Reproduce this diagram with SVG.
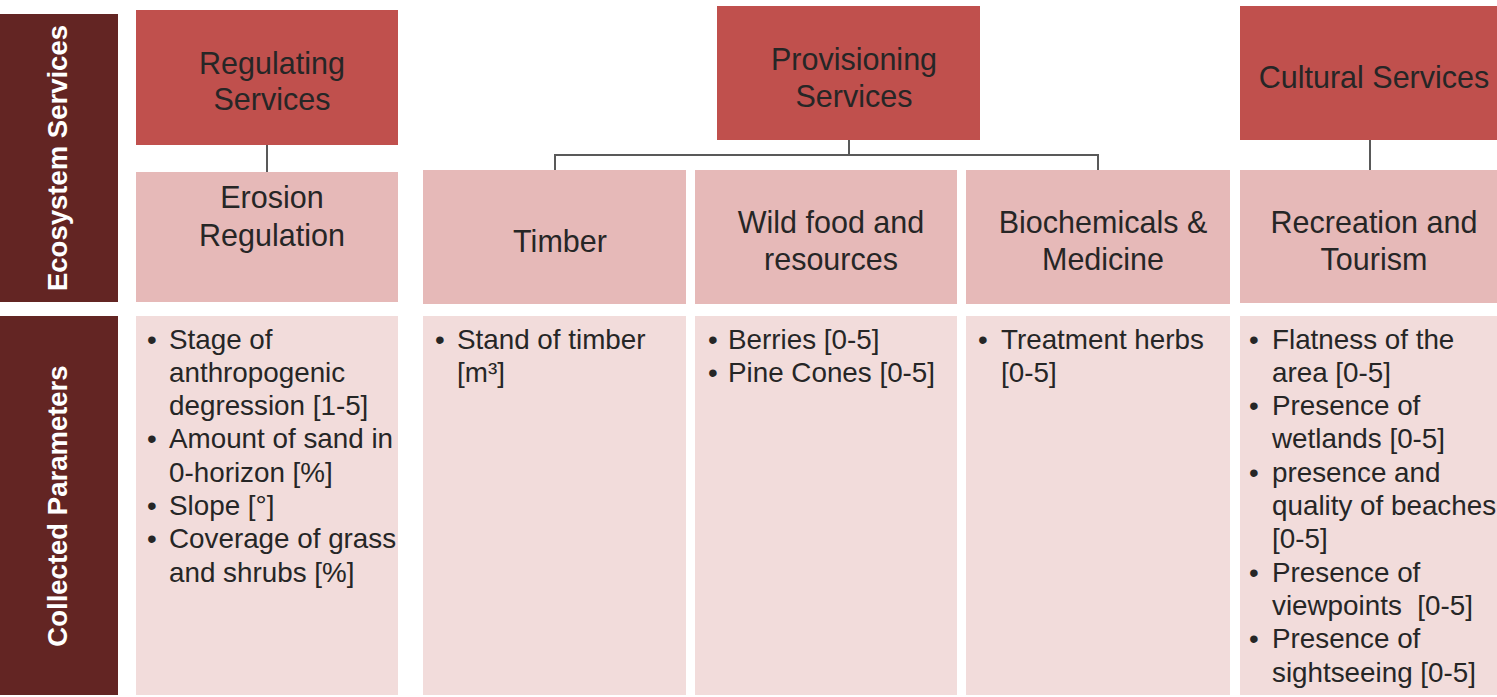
<svg xmlns="http://www.w3.org/2000/svg" width="1497" height="697" viewBox="0 0 1497 697">
<style>
text { font-family: "Liberation Sans", Arial, sans-serif; fill: #262626; }
.side { fill: #632523; }
.head { fill: #c0504d; }
.mid { fill: #e6b9b8; }
.par { fill: #f2dcdb; }
.sidet { fill: #ffffff; font-weight: bold; font-size: 27.5px; text-anchor: middle; }
.ht { font-size: 30.5px; text-anchor: middle; }
.pt { font-size: 27.8px; }
.conn { stroke: #595959; stroke-width: 2; fill: none; }
</style>
<rect width="1497" height="697" fill="#ffffff"/>
<g id="side-ecosystem">
<rect class="side" x="0" y="14" width="118" height="288"/>
<text class="sidet" transform="translate(67,158) rotate(-90)">Ecosystem Services</text>
</g>
<g id="side-collected">
<rect class="side" x="0" y="316" width="118" height="379"/>
<text class="sidet" transform="translate(67,506) rotate(-90)">Collected Parameters</text>
</g>
<g id="connectors">
<path class="conn" d="M267,145 V172"/>
<path class="conn" d="M849,140 V155 M555,170 V155 H1098 V170"/>
<path class="conn" d="M1370,140 V170"/>
</g>
<g id="regulating">
<rect class="head" x="136" y="10" width="262" height="135"/>
<text class="ht" x="272" y="74">Regulating</text>
<text class="ht" x="272" y="110">Services</text>
</g>
<g id="provisioning">
<rect class="head" x="717" y="6" width="263" height="134"/>
<text class="ht" x="854" y="70">Provisioning</text>
<text class="ht" x="854" y="107">Services</text>
</g>
<g id="cultural">
<rect class="head" x="1240" y="6" width="263" height="134"/>
<text class="ht" x="1374" y="88">Cultural Services</text>
</g>
<g id="erosion">
<rect class="mid" x="136" y="172" width="262" height="130"/>
<text class="ht" x="272" y="208">Erosion</text>
<text class="ht" x="272" y="246">Regulation</text>
</g>
<g id="timber">
<rect class="mid" x="423" y="170" width="263" height="134"/>
<text class="ht" x="560" y="252">Timber</text>
</g>
<g id="wildfood">
<rect class="mid" x="695" y="170" width="262" height="134"/>
<text class="ht" x="831" y="233">Wild food and</text>
<text class="ht" x="831" y="270">resources</text>
</g>
<g id="biochemicals">
<rect class="mid" x="966" y="170" width="264" height="134"/>
<text class="ht" x="1103" y="233">Biochemicals &amp;</text>
<text class="ht" x="1103" y="270">Medicine</text>
</g>
<g id="recreation">
<rect class="mid" x="1240" y="170" width="263" height="133"/>
<text class="ht" x="1374" y="233">Recreation and</text>
<text class="ht" x="1374" y="270">Tourism</text>
</g>
<g id="params-regulating">
<rect class="par" x="136" y="316" width="262" height="379"/>
<text class="pt">
<tspan x="147" y="348.5">•</tspan><tspan x="169" y="348.5">Stage of</tspan>
<tspan x="169" y="381.8">anthropogenic</tspan>
<tspan x="169" y="415.1">degression [1-5]</tspan>
<tspan x="147" y="448.4">•</tspan><tspan x="169" y="448.4">Amount of sand in</tspan>
<tspan x="169" y="481.7">0-horizon [%]</tspan>
<tspan x="147" y="515">•</tspan><tspan x="169" y="515">Slope [°]</tspan>
<tspan x="147" y="548.3">•</tspan><tspan x="169" y="548.3">Coverage of grass</tspan>
<tspan x="169" y="581.6">and shrubs [%]</tspan>
</text>
</g>
<g id="params-timber">
<rect class="par" x="423" y="316" width="263" height="379"/>
<text class="pt">
<tspan x="435" y="348.5">•</tspan><tspan x="457" y="348.5">Stand of timber</tspan>
<tspan x="457" y="381.8">[m³]</tspan>
</text>
</g>
<g id="params-wildfood">
<rect class="par" x="695" y="316" width="262" height="379"/>
<text class="pt">
<tspan x="708" y="348.5">•</tspan><tspan x="728" y="348.5">Berries [0-5]</tspan>
<tspan x="708" y="381.8">•</tspan><tspan x="728" y="381.8">Pine Cones [0-5]</tspan>
</text>
</g>
<g id="params-biochemicals">
<rect class="par" x="966" y="316" width="264" height="379"/>
<text class="pt">
<tspan x="978" y="348.5">•</tspan><tspan x="1001" y="348.5">Treatment herbs</tspan>
<tspan x="1001" y="381.8">[0-5]</tspan>
</text>
</g>
<g id="params-cultural">
<rect class="par" x="1240" y="316" width="263" height="379"/>
<text class="pt">
<tspan x="1249" y="348.5">•</tspan><tspan x="1272" y="348.5">Flatness of the</tspan>
<tspan x="1272" y="381.8">area [0-5]</tspan>
<tspan x="1249" y="415.1">•</tspan><tspan x="1272" y="415.1">Presence of</tspan>
<tspan x="1272" y="448.4">wetlands [0-5]</tspan>
<tspan x="1249" y="481.7">•</tspan><tspan x="1272" y="481.7">presence and</tspan>
<tspan x="1272" y="515">quality of beaches</tspan>
<tspan x="1272" y="548.3">[0-5]</tspan>
<tspan x="1249" y="581.6">•</tspan><tspan x="1272" y="581.6">Presence of</tspan>
<tspan x="1272" y="614.9">viewpoints&#160; [0-5]</tspan>
<tspan x="1249" y="648.2">•</tspan><tspan x="1272" y="648.2">Presence of</tspan>
<tspan x="1272" y="681.5">sightseeing [0-5]</tspan>
</text>
</g>
</svg>
